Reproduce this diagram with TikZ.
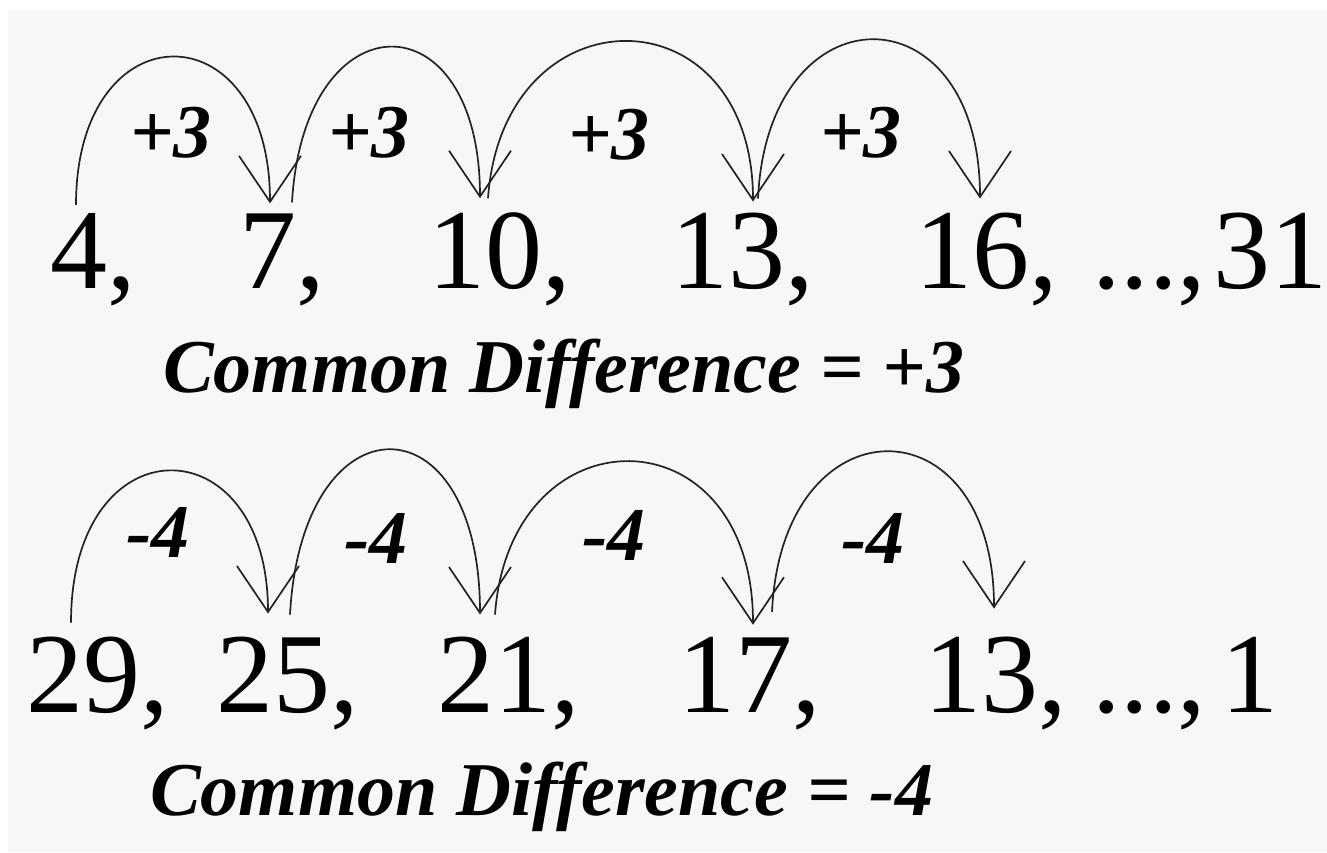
\documentclass[tikz,border=0pt]{standalone}
\usepackage{fontspec}
\setmainfont{Liberation Serif}
\usetikzlibrary{arrows.meta,calc}
\definecolor{bggray}{RGB}{247,247,247}
\definecolor{inkline}{RGB}{35,35,35}
\tikzset{
  num/.style={anchor=base west,inner sep=0pt,outer sep=0pt,text=black,font=\fontsize{114}{114}\selectfont},
  diff/.style={anchor=center,inner sep=0pt,text=black,font=\fontsize{76}{76}\selectfont\bfseries\itshape},
  caption/.style={anchor=base west,inner sep=0pt,text=black,font=\fontsize{76}{76}\selectfont\bfseries\itshape},
  jump/.style={draw=inkline,line width=1.7pt,-{Straight Barb[length=46pt,width=62pt]}}
}
\begin{document}
\begin{tikzpicture}[x=1pt,y=-1pt]
\useasboundingbox (0,0) rectangle (1327,852);
\fill[white] (0,0) rectangle (1327,852);
\fill[bggray] (8,10) rectangle (1327,852);

% ---- first sequence ----
\node[num] (n4)  at (50,288)   {4,};
\node[num] (n7)  at (239,288)  {7,};
\node[num] (n10) at (428,288)  {10,};
\node[num] (n13) at (671,288)  {13,};
\node[num] (n16) at (915,288)  {16,};
\node[num] (nd)  at (1092,288) {...,};
\node[num] (n31) at (1213,288) {31};

\node[diff] (p1) at (171,133) {+3};
\node[diff] (p2) at (369,133) {+3};
\node[diff] (p3) at (609,135) {+3};
\node[diff] (p4) at (861,133) {+3};

\draw[jump] ($(n4.north west)+(26,-8)$) .. controls +(0,-197) and +(0,-196) .. ($(n7.north west)+(31,-10)$);
\draw[jump] ($(n7.north west)+(53,-11)$) .. controls +(12,-206) and +(0,-203) .. ($(n10.north west)+(52,-14)$);
\draw[jump] ($(n10.north west)+(60,-14)$) .. controls +(15,-210) and +(0,-213) .. ($(n13.north west)+(82,-11)$);
\draw[jump] ($(n13.north west)+(87,-14)$) .. controls +(10,-212) and +(0,-212) .. ($(n16.north west)+(65,-14)$);

\node[caption] (c1) at (163,392) {Common Difference = +3};

% ---- second sequence ----
\node[num] (m29) at (26,712)   {29,};
\node[num] (m25) at (216,712)  {25,};
\node[num] (m21) at (437,712)  {21,};
\node[num] (m17) at (678,712)  {17,};
\node[num] (m13) at (924,712)  {13,};
\node[num] (md)  at (1092,712) {...,};
\node[num] (m1)  at (1221,712) {1};

\node[diff] (q1) at (158,532) {-4};
\node[diff] (q2) at (376,538) {-4};
\node[diff] (q3) at (614,535) {-4};
\node[diff] (q4) at (873,538) {-4};

\draw[jump] ($(m29.north west)+(45,-14)$) .. controls +(0,-202) and +(0,-191) .. ($(m25.north west)+(52,-23)$);
\draw[jump] ($(m25.north west)+(74,-22)$) .. controls +(12,-220) and +(0,-220) .. ($(m21.north west)+(43,-22)$);
\draw[jump] ($(m21.north west)+(58,-22)$) .. controls +(15,-206) and +(0,-216) .. ($(m17.north west)+(75,-12)$);
\draw[jump] ($(m17.north west)+(94,-25)$) .. controls +(10,-213) and +(0,-210) .. ($(m13.north west)+(70,-28)$);

\node[caption] (c2) at (150,815) {Common Difference = -4};
\end{tikzpicture}
\end{document}
